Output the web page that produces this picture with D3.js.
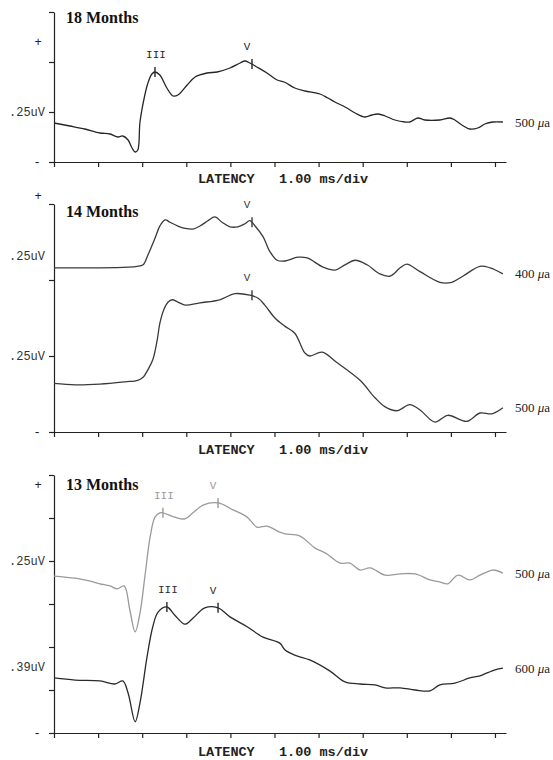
<!DOCTYPE html>
<html>
<head>
<meta charset="utf-8">
<script src="https://cdn.jsdelivr.net/npm/d3@7.9.0/dist/d3.min.js"></script>
<style>
  body { margin: 0; background: #fff; }
  svg { display: block; }
  .axis path, .axis line { stroke: #222; stroke-width: 1.2; }
</style>
</head>
<body>
<svg id="abr"></svg>
<script>
// latency in ms, amplitude in vertical divisions of its panel
const trace18m500 = [
  [0, 0.78], [0.36, 0.72], [0.70, 0.66], [1.04, 0.58], [1.27, 0.56], [1.45, 0.50],
  [1.56, 0.52], [1.68, 0.44], [1.77, 0.28], [1.84, 0.20], [1.90, 0.24], [1.95, 0.80],
  [2.06, 1.34], [2.13, 1.58], [2.22, 1.76], [2.29, 1.80], [2.40, 1.74], [2.56, 1.48],
  [2.70, 1.32], [2.81, 1.34], [3.02, 1.54], [3.20, 1.70], [3.47, 1.78], [3.70, 1.80],
  [3.99, 1.88], [4.22, 1.98], [4.33, 2.02], [4.44, 1.98], [4.60, 1.90], [4.83, 1.78],
  [5.06, 1.64], [5.22, 1.60], [5.46, 1.48], [5.69, 1.42], [6.03, 1.36], [6.21, 1.28],
  [6.37, 1.20], [6.60, 1.10], [6.83, 0.98], [7.05, 0.90], [7.21, 0.94], [7.35, 0.96],
  [7.51, 0.92], [7.73, 0.84], [7.96, 0.80], [8.07, 0.80], [8.25, 0.88], [8.41, 0.84],
  [8.75, 0.84], [8.98, 0.88], [9.09, 0.84], [9.25, 0.74], [9.43, 0.66], [9.61, 0.68],
  [9.77, 0.76], [9.95, 0.80], [10.18, 0.80]
];
const trace14m400 = [
  [0, 2.16], [1.04, 2.16], [1.68, 2.17], [1.88, 2.18], [2.02, 2.20], [2.13, 2.33],
  [2.29, 2.55], [2.40, 2.71], [2.52, 2.79], [2.63, 2.76], [2.81, 2.71], [2.97, 2.68],
  [3.15, 2.67], [3.31, 2.71], [3.49, 2.78], [3.65, 2.83], [3.81, 2.76], [3.99, 2.70],
  [4.17, 2.70], [4.33, 2.74], [4.44, 2.78], [4.56, 2.71], [4.74, 2.57], [4.90, 2.37],
  [5.06, 2.26], [5.24, 2.25], [5.53, 2.30], [5.74, 2.29], [6.10, 2.17], [6.37, 2.13],
  [6.60, 2.20], [6.83, 2.26], [7.10, 2.20], [7.39, 2.08], [7.62, 2.05], [7.85, 2.16],
  [8.00, 2.21], [8.30, 2.11], [8.75, 1.97], [9.02, 1.97], [9.27, 2.05], [9.66, 2.18],
  [9.89, 2.16], [10.18, 2.08]
];
const trace14m500 = [
  [0, 0.64], [0.48, 0.62], [1.04, 0.63], [1.61, 0.66], [1.90, 0.68], [2.02, 0.72],
  [2.13, 0.82], [2.24, 0.95], [2.34, 1.21], [2.40, 1.43], [2.49, 1.61], [2.59, 1.71],
  [2.68, 1.74], [2.81, 1.71], [2.97, 1.67], [3.31, 1.70], [3.76, 1.74], [4.10, 1.82],
  [4.44, 1.80], [4.63, 1.76], [4.78, 1.67], [5.01, 1.50], [5.24, 1.39], [5.46, 1.30],
  [5.69, 1.04], [5.80, 1.00], [6.08, 1.05], [6.40, 0.92], [6.94, 0.68], [7.28, 0.45],
  [7.51, 0.33], [7.78, 0.28], [8.07, 0.36], [8.30, 0.29], [8.64, 0.13], [8.93, 0.22],
  [9.36, 0.14], [9.66, 0.25], [9.93, 0.24], [10.18, 0.32]
];
const trace13m500 = [
  [0, 3.65], [0.48, 3.60], [0.82, 3.53], [1.04, 3.47], [1.27, 3.42], [1.43, 3.35],
  [1.59, 3.42], [1.72, 2.86], [1.84, 2.35], [1.95, 2.79], [2.06, 3.63], [2.18, 4.56],
  [2.29, 5.02], [2.40, 5.12], [2.47, 5.12], [2.74, 5.02], [2.97, 4.98], [3.15, 5.12],
  [3.38, 5.30], [3.72, 5.35], [4.06, 5.19], [4.38, 5.02], [4.60, 4.79], [4.83, 4.81],
  [5.12, 4.67], [5.24, 4.63], [5.58, 4.58], [5.92, 4.30], [6.15, 4.19], [6.49, 3.95],
  [6.71, 3.95], [6.94, 3.79], [7.17, 3.84], [7.51, 3.67], [7.85, 3.70], [8.19, 3.70],
  [8.53, 3.56], [8.75, 3.51], [8.93, 3.47], [9.16, 3.67], [9.43, 3.56], [9.66, 3.67],
  [9.95, 3.79], [10.18, 3.72]
];
const trace13m600 = [
  [0, 1.28], [0.48, 1.23], [1.04, 1.21], [1.38, 1.14], [1.56, 1.21], [1.68, 0.93],
  [1.84, 0.26], [1.95, 0.70], [2.11, 1.77], [2.24, 2.47], [2.36, 2.81], [2.56, 2.93],
  [2.74, 2.74], [2.97, 2.53], [3.15, 2.67], [3.42, 2.91], [3.72, 2.91], [3.99, 2.70],
  [4.38, 2.47], [4.74, 2.23], [5.12, 2.09], [5.24, 1.93], [5.46, 1.81], [5.80, 1.70],
  [6.26, 1.44], [6.60, 1.19], [6.94, 1.14], [7.28, 1.12], [7.51, 1.05], [7.85, 1.05],
  [8.19, 1.00], [8.53, 0.98], [8.75, 1.12], [9.09, 1.16], [9.43, 1.28], [9.66, 1.33],
  [10.00, 1.47], [10.18, 1.51]
];

// wave markers: [name, latency ms, amplitude]
const marks18m500 = [['III', 2.29, 1.80], ['V', 4.49, 1.96]];
const marks14m400 = [['V', 4.49, 2.76]];
const marks14m500 = [['V', 4.49, 1.80]];
const marks13m500 = [['III', 2.47, 5.12], ['V', 3.72, 5.35]];
const marks13m600 = [['III', 2.56, 2.93], ['V', 3.72, 2.91]];

const latencyTicks = d3.range(0, 11);   // 1.00 ms/div
const panelTitles = ['18 Months', '14 Months', '13 Months'];

const width = 553, height = 760;
const x = d3.scaleLinear().domain([0, 10.25]).range([54, 506]);

const panels = [
  { title: panelTitles[0], divs: 3, range: [162, 12], titleY: 23, plusY: 42, latencyY: 183,
    gains: [['.25uV', 1]],
    traces: [{ data: trace18m500, marks: marks18m500, stim: '500', color: '#262626' }] },
  { title: panelTitles[1], divs: 3, range: [432, 204], titleY: 217, plusY: 196, latencyY: 454,
    gains: [['.25uV', 2.32], ['.25uV', 1]],
    traces: [{ data: trace14m400, marks: marks14m400, stim: '400', color: '#3a3a3a' },
             { data: trace14m500, marks: marks14m500, stim: '500', color: '#3a3a3a' }] },
  { title: panelTitles[2], divs: 6, range: [733, 475], titleY: 490, plusY: 485, latencyY: 756,
    gains: [['.25uV', 4], ['.39uV', 1.53]],
    traces: [{ data: trace13m500, marks: marks13m500, stim: '500', color: '#9a9a9a' },
             { data: trace13m600, marks: marks13m600, stim: '600', color: '#2a2a2a' }] }
];

const svg = d3.select('#abr')
  .attr('width', width)
  .attr('height', height)
  .style('background', '#fff');

const mono = "'Liberation Mono', 'DejaVu Sans Mono', monospace";
const serif = "'Liberation Serif', 'Times New Roman', serif";

panels.forEach(p => {
  const y = d3.scaleLinear().domain([0, p.divs]).range(p.range);
  const g = svg.append('g');

  g.append('g')
    .attr('class', 'axis')
    .attr('transform', `translate(0, ${y(0)})`)
    .call(d3.axisBottom(x).tickValues(latencyTicks).tickSize(5).tickSizeOuter(0).tickFormat(''));

  g.append('g')
    .attr('class', 'axis')
    .attr('transform', `translate(${x(0)}, 0)`)
    .call(d3.axisLeft(y).ticks(p.divs).tickSize(5).tickSizeOuter(0).tickFormat(''));

  // polarity and gain labels
  g.append('text').attr('x', 38).attr('y', p.plusY).attr('dy', '0.35em')
    .attr('text-anchor', 'middle').attr('font-family', mono).attr('font-size', 12)
    .attr('fill', '#222').text('+');
  g.append('text').attr('x', 37).attr('y', y(0)).attr('dy', '0.35em')
    .attr('text-anchor', 'middle').attr('font-family', mono).attr('font-size', 12)
    .attr('fill', '#222').text('-');
  p.gains.forEach(([label, at]) => {
    g.append('text').attr('x', 45).attr('y', y(at)).attr('dy', '0.35em')
      .attr('text-anchor', 'end').attr('font-family', mono).attr('font-size', 12)
      .attr('fill', '#333').text(label);
  });

  g.append('text')
    .attr('x', 198).attr('y', p.latencyY)
    .attr('font-family', mono).attr('font-weight', 'bold').attr('font-size', 13.5)
    .attr('fill', '#222').style('white-space', 'pre')
    .text('LATENCY   1.00 ms/div');

  g.append('text')
    .attr('x', 66).attr('y', p.titleY)
    .attr('font-family', serif)
    .attr('font-weight', 'bold').attr('font-size', 16).attr('fill', '#111')
    .text(p.title);

  const line = d3.line()
    .x(d => x(d[0]))
    .y(d => y(d[1]))
    .curve(d3.curveCatmullRom.alpha(0.5));

  p.traces.forEach(t => {
    g.append('path')
      .datum(t.data)
      .attr('fill', 'none')
      .attr('stroke', t.color)
      .attr('stroke-width', 1.3)
      .attr('stroke-linejoin', 'round')
      .attr('d', line);

    t.marks.forEach(([name, ms, amp]) => {
      g.append('line')
        .attr('x1', x(ms)).attr('x2', x(ms))
        .attr('y1', y(amp) - 5).attr('y2', y(amp) + 5)
        .attr('stroke', t.color).attr('stroke-width', 1.4);
      g.append('text')
        .attr('x', x(ms) + (name === 'V' ? -5 : 1))
        .attr('y', y(amp) - 18).attr('dy', '0.35em')
        .attr('text-anchor', 'middle')
        .attr('font-family', mono).attr('font-size', 11)
        .attr('fill', t.color)
        .text(name);
    });

    const last = t.data[t.data.length - 1];
    const lbl = g.append('text')
      .attr('x', 515).attr('y', y(last[1])).attr('dy', '0.35em')
      .attr('font-family', serif)
      .attr('font-size', 13).attr('fill', '#222');
    lbl.append('tspan').text(t.stim + ' ');
    lbl.append('tspan').attr('font-style', 'italic').text('μ');
    lbl.append('tspan').text('a');
  });
});
</script>
</body>
</html>
